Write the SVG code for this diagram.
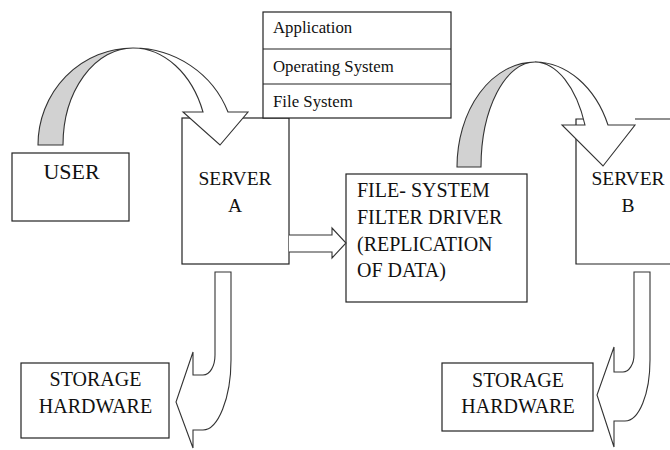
<svg xmlns="http://www.w3.org/2000/svg" width="670" height="450" viewBox="0 0 670 450" font-family="'Liberation Serif', 'Times New Roman', 'DejaVu Serif', serif">
  <style>
    .box { fill: #ffffff; stroke: #222222; stroke-width: 1.2; }
    .edge { fill: none; stroke: #222222; stroke-width: 1.2; }
    text { font-family: 'Liberation Serif', 'Times New Roman', 'DejaVu Serif', serif; fill: #111111; }
    .big { font-size: 20px; }
    .mid { font-size: 19.5px; text-anchor: middle; }
    .small { font-size: 16.8px; }
    .ctr { text-anchor: middle; }
    .ribbon { fill: #ffffff; stroke: #333333; stroke-width: 1.1; stroke-linejoin: miter; }
    .ribbon-back { fill: #d2d2d2; stroke: #333333; stroke-width: 1.1; }
  </style>

  <rect width="670" height="450" fill="#ffffff"/>

  <!-- client -->
  <g id="user">
    <rect class="box" x="12" y="153" width="117" height="68"/>
    <text class="ctr" x="71.5" y="179" font-size="22">USER</text>
  </g>

  <!-- primary server -->
  <g id="server-a">
    <rect class="box" x="182" y="118" width="107" height="146"/>
    <text class="mid" x="235" y="185">SERVER</text>
    <text class="mid" x="235" y="212">A</text>
  </g>

  <!-- software layers above server A -->
  <g id="layers">
    <rect class="box" x="263" y="12" width="188" height="106"/>
    <line class="edge" x1="263" y1="49" x2="451" y2="49"/>
    <line class="edge" x1="263" y1="84" x2="451" y2="84"/>
    <text class="small" x="273" y="33">Application</text>
    <text class="small" x="273" y="72">Operating System</text>
    <text class="small" x="273" y="107">File System</text>
  </g>

  <!-- replication driver -->
  <g id="filter-driver">
    <rect class="box" x="346" y="174" width="181" height="128"/>
    <text class="big" x="357" y="197">FILE- SYSTEM</text>
    <text class="big" x="357" y="224">FILTER DRIVER</text>
    <text class="big" x="357" y="251">(REPLICATION</text>
    <text class="big" x="357" y="277">OF DATA)</text>
  </g>

  <!-- secondary server, runs off the right edge -->
  <g id="server-b">
    <rect x="576" y="119" width="114" height="145" fill="#ffffff"/>
    <path class="edge" d="M590,119 H576 V264 H690 M635,119 H690"/>
    <text class="mid" x="628" y="185">SERVER</text>
    <text class="mid" x="628" y="212">B</text>
  </g>

  <!-- storage under server A -->
  <g id="storage-a">
    <rect class="box" x="21" y="363" width="148" height="75"/>
    <text class="big ctr" x="95.5" y="386">STORAGE</text>
    <text class="big ctr" x="95.5" y="413">HARDWARE</text>
  </g>

  <!-- storage under server B -->
  <g id="storage-b">
    <rect class="box" x="442" y="363" width="151" height="68"/>
    <text class="big ctr" x="518" y="387">STORAGE</text>
    <text class="big ctr" x="518" y="413">HARDWARE</text>
  </g>

  <!-- block arrows -->
  <g id="connectors">
    <!-- USER to SERVER A: curved ribbon -->
    <path class="ribbon-back" d="M38,145 A95 97 0 0 1 133,48 A70 97 0 0 0 63,145 Z"/>
    <path class="ribbon" d="M133,48 A102 100 0 0 1 228,112 L248,112 L220,145 L183,112 L203,112 A75 100 0 0 0 133,48 Z"/>

    <!-- filter driver to SERVER B: curved ribbon -->
    <path class="ribbon-back" d="M457,167 A78 105 0 0 1 535,62 A54 105 0 0 0 481,167 Z"/>
    <path class="ribbon" d="M535,62 A80 105 0 0 1 608,125 L635,125 L603,166 L562,125 L585,125 A55 105 0 0 0 535,62 Z"/>

    <!-- SERVER A to filter driver -->
    <path class="ribbon" d="M289,235 H332 V228 L346,243 L332,258 V252 H289"/>

    <!-- SERVER A down to storage -->
    <path class="ribbon" d="M215,272 H231 V360 C231,398 218,430 203,430 H193 V448 L176,402 L193,352 V375 H203 C210,375 215,366 215,355 Z"/>

    <!-- SERVER B down to storage -->
    <path class="ribbon" d="M634,272 H650 V360 C650,394 639,421 625,421 H614 V447 L597,395 L614,347 V372 H623 C629,372 634,364 634,355 Z"/>
  </g>
</svg>
